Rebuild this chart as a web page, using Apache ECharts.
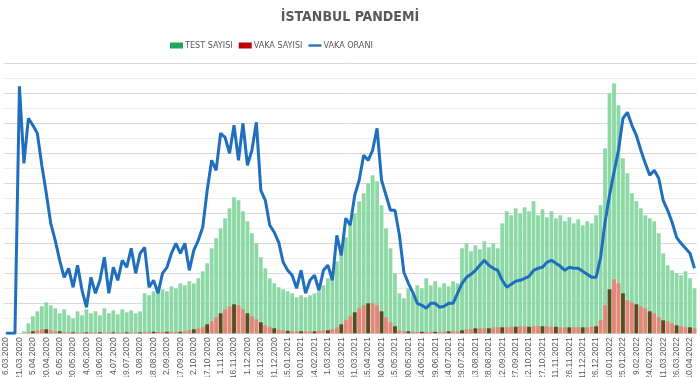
<!DOCTYPE html>
<html>
<head>
    <meta charset="utf-8">
    <title>index</title>
    <script src="https://cdn.jsdelivr.net/npm/echarts@6/dist/echarts.min.js"></script>
    <style>
        html, body { margin: 0; padding: 0; background: #fff; }
        #chart { width: 700px; height: 377px; }
    </style>
</head>
<body>
    <div id="chart"></div>
<script>
    // 5 gunluk adim, 6.03.2020 - 15.04.2022
    var tarihler = [];
    for (var i = 0; i < 155; i++) {
        var d = new Date(2020, 2, 6 + 5 * i);
        tarihler.push(d.getDate() + '.' + String(d.getMonth() + 1).padStart(2, '0') + '.' + d.getFullYear());
    }

    // bin
    var testSayisi = [0,0,0,0,2,10,17,22,27,31,
        28,25,20,24,18,15,22,18,24,20,
        22,18,25,20,23,19,24,21,23,20,
        22,40,38,42,40,44,42,47,45,50,
        48,52,50,55,62,70,85,95,105,115,
        125,136,133,122,112,100,90,76,65,55,
        50,46,44,42,40,36,38,36,38,40,
        42,48,55,62,72,84,96,108,120,132,
        140,150,158,152,128,105,85,60,40,35,
        45,40,48,45,55,48,52,46,50,47,
        52,50,85,90,82,88,84,92,86,90,
        85,110,122,118,125,120,126,122,132,118,
        124,116,122,115,118,112,116,110,114,108,
        112,110,118,128,185,240,250,228,175,160,
        140,132,125,118,115,112,100,80,68,63,
        60,58,62,55,45];

    // bin
    var vakaSayisi = [0,0,0,0,0,1,2,3,4,4,
        3,2,2,1.5,1,1,1,1,1,1,
        1,1,1,1,1,1,1,1,1,1,
        1,1.5,1.5,1.5,1.5,1.5,1.5,1.5,1.5,1.5,
        2,3,4,5,6,9,12,16,20,24,
        27,29,28,24,20,17,14,11,8,6,
        5,3.5,3,2.5,2,2,2,2,2,2,
        2.5,3,3,4,6,9,13,17,21,25,
        28,30,30,28,22,16,11,7,3,2,
        2,1.5,1.5,1.5,1.5,1.5,1.5,1.5,1.5,2,
        2,2,3,4,4,5,5,5,5,6,
        6,6,6,6.5,6.5,7,7,6.5,7,7,
        7,7,6.5,6.5,6,6,6,6,6,6,
        6,6.5,7,13,28,44,54,50,40,33,
        31,29,27,25,22,20,16,13,12,10,
        8,7,6,6,5];

    // yuzde
    var vakaOrani = [0,0,0,24.7,17,21.5,20.8,20.0,16.8,14.0,
        11.0,9.3,7.3,5.6,6.5,4.6,6.8,4.3,2.6,5.6,
        4.0,5.3,7.6,4.0,6.6,5.3,7.3,6.6,8.5,6.0,
        8.0,8.6,4.6,5.3,4.0,6.0,6.6,8.0,9.0,8.0,
        9.0,6.3,8.3,9.3,10.6,14.3,17.3,16.3,20.0,19.6,
        18.0,20.8,17.3,21.0,16.8,18.3,21.1,14.3,13.3,10.8,
        10.1,9.1,7.1,6.3,5.8,4.5,6.3,4.0,5.3,5.8,
        4.3,6.3,6.8,5.3,9.8,7.8,11.5,10.8,13.8,15.3,
        17.8,17.3,18.3,20.5,15.3,13.8,12.3,12.3,9.8,6.1,
        5.0,4.1,3.0,2.8,2.5,3.0,3.0,2.6,2.7,3.0,
        3.0,4.0,5.0,5.6,5.9,6.3,6.8,7.3,6.8,6.5,
        6.3,5.3,4.6,4.9,5.2,5.3,5.5,5.7,6.3,6.5,
        6.6,7.1,7.3,7.0,6.7,6.3,6.6,6.5,6.5,6.2,
        5.9,5.6,5.6,7.6,11.1,13.8,16.1,18.3,21.5,22.1,
        20.8,19.8,18.3,17.0,15.8,16.3,15.5,13.3,12.3,11.1,
        9.6,9.0,8.5,8.0,6.5];

    var dar = "'Liberation Sans Narrow', 'DejaVu Sans Condensed', 'Liberation Sans', sans-serif";

    var chart = echarts.init(document.getElementById('chart'));
    var option = {
        animation: false,
        title: {
            text: 'İSTANBUL PANDEMİ',
            left: 'center',
            top: 5,
            textStyle: { fontFamily: dar, fontSize: 14, fontWeight: 'bold', color: '#595959' }
        },
        legend: {
            top: 36,
            left: 165,
            itemWidth: 13,
            itemHeight: 6,
            itemGap: 6,
            textStyle: { fontFamily: dar, fontSize: 9, color: '#595959', padding: [0, 0, 0, -3] },
            data: [
                { name: 'TEST SAYISI', icon: 'rect', itemStyle: { color: '#22a75a' } },
                { name: 'VAKA SAYISI', icon: 'rect', itemStyle: { color: '#c00000' } },
                { name: 'VAKA ORANI', icon: 'path://M0,0H16V3H0Z', itemStyle: { color: '#2e75b6' } }
            ]
        },
        grid: { left: 3.8, right: 3.3, top: 63.3, bottom: 43.7, outerBoundsMode: 'none' },
        xAxis: {
            type: 'category',
            data: tarihler,
            axisLine: { lineStyle: { color: '#d9d9d9' } },
            axisTick: { interval: 2, alignWithLabel: true, length: 3, lineStyle: { color: '#bfbfbf' } },
            axisLabel: { interval: 2, rotate: 90, margin: 4, fontFamily: 'Liberation Sans', fontSize: 8.5, color: '#595959' }
        },
        yAxis: [
            {
                type: 'value', min: 0, max: 270, interval: 30,
                axisLabel: { show: false }, axisLine: { show: false }, axisTick: { show: false },
                splitLine: { lineStyle: { color: '#d9d9d9' } },
                minorTick: { show: false, splitNumber: 2 },
                minorSplitLine: { show: true, lineStyle: { color: '#eeeeee' } }
            },
            {
                type: 'value', min: 0, max: 27, interval: 3,
                axisLabel: { show: false }, axisLine: { show: false }, axisTick: { show: false },
                splitLine: { show: false }
            }
        ],
        series: [
            {
                name: 'TEST SAYISI', type: 'bar', data: testSayisi,
                barCategoryGap: '15%', barGap: '-100%',
                itemStyle: { color: '#8cd9a5' }
            },
            {
                name: 'VAKA SAYISI', type: 'bar', data: vakaSayisi,
                barCategoryGap: '15%', barGap: '-100%',
                itemStyle: {
                    color: function (p) { return p.dataIndex % 3 === 0 ? '#5e4a22' : '#e8857b'; }
                }
            },
            {
                name: 'VAKA ORANI', type: 'line', yAxisIndex: 1, data: vakaOrani,
                showSymbol: false, symbol: 'none', z: 5,
                lineStyle: { color: '#1f6fbf', width: 3 },
                itemStyle: { color: '#1f6fbf' }
            }
        ]
    };
    chart.setOption(option);
</script>
</body>
</html>
